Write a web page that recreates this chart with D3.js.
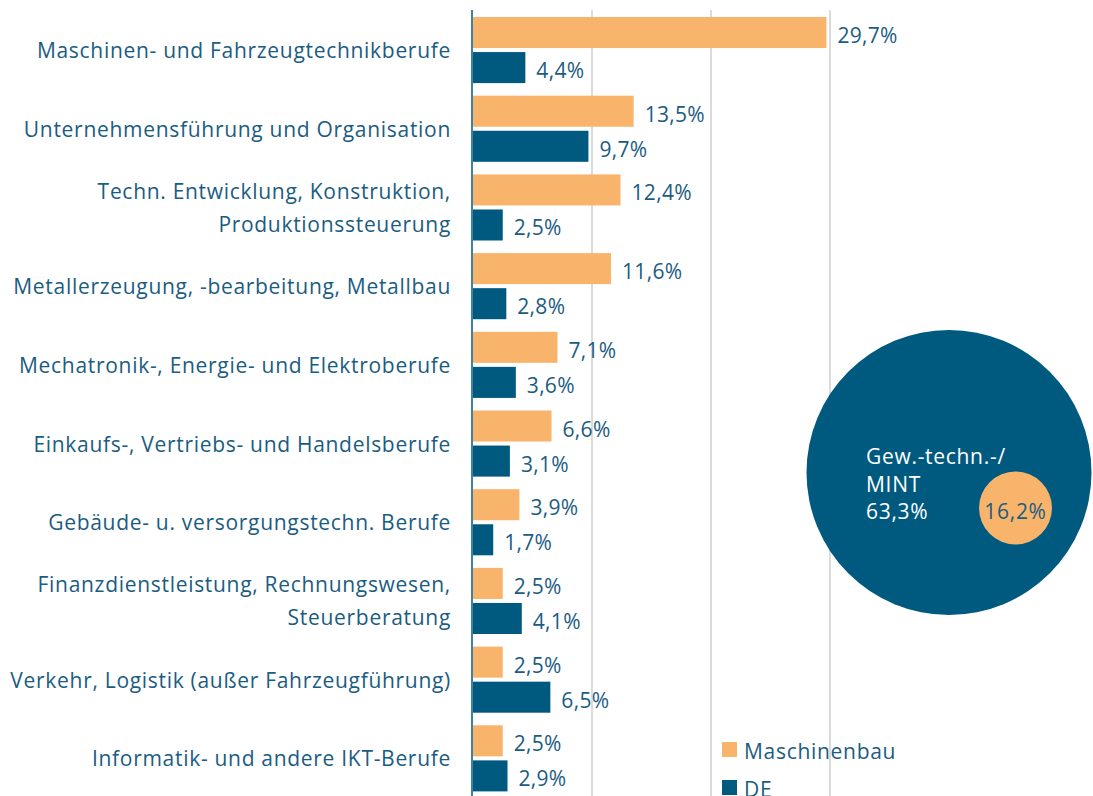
<!DOCTYPE html>
<html>
<head>
<meta charset="utf-8">
<script src="https://cdn.jsdelivr.net/npm/d3@7"></script>
<style>
  body { margin: 0; background: #fff; }
  svg { display: block; font-family: "Open Sans", sans-serif; }
</style>
</head>
<body>
<svg id="chart" width="1093" height="796"></svg>
<script>
// data
var categories = [
  ['Maschinen- und Fahrzeugtechnikberufe'],
  ['Unternehmensführung und Organisation'],
  ['Techn. Entwicklung, Konstruktion,', 'Produktionssteuerung'],
  ['Metallerzeugung, -bearbeitung, Metallbau'],
  ['Mechatronik-, Energie- und Elektroberufe'],
  ['Einkaufs-, Vertriebs- und Handelsberufe'],
  ['Gebäude- u. versorgungstechn. Berufe'],
  ['Finanzdienstleistung, Rechnungswesen,', 'Steuerberatung'],
  ['Verkehr, Logistik (außer Fahrzeugführung)'],
  ['Informatik- und andere IKT-Berufe']
];
var maschinenbau = [29.7, 13.5, 12.4, 11.6, 7.1, 6.6, 3.9, 2.5, 2.5, 2.5];
var de = [4.4, 9.7, 2.5, 2.8, 3.6, 3.1, 1.7, 4.1, 6.5, 2.9];
var seriesNames = ['Maschinenbau', 'DE'];
var xTicks = [10, 20, 30];
var mintLabel = ['Gew.-techn.-/', 'MINT'];
var mintDE = 63.3, mintMB = 16.2;

var orange = '#f9b46b', blue = '#005a80', textColor = '#1b5c82';

var svg = d3.select('#chart');
var fmt = function(v) { return v.toFixed(1).replace('.', ',') + '%'; };

var x = d3.scaleLinear().domain([0, 30]).range([473, 830]);
var y = d3.scaleBand()
  .domain(d3.range(categories.length))
  .range([10.7, 797.7])
  .paddingInner(0.16)
  .paddingOuter(0.08);
var ySub = d3.scaleBand()
  .domain([0, 1])
  .range([0, y.bandwidth()])
  .paddingInner(0.115);

// grid
svg.append('g').selectAll('line')
  .data(xTicks)
  .enter().append('line')
  .attr('x1', function(d) { return x(d); })
  .attr('x2', function(d) { return x(d); })
  .attr('y1', 10)
  .attr('y2', 796)
  .attr('stroke', '#cfcfcf')
  .attr('stroke-width', 1.5);

// bars
var groups = svg.append('g').selectAll('g')
  .data(categories)
  .enter().append('g')
  .attr('transform', function(d, i) { return 'translate(0,' + y(i) + ')'; });

var vals = [maschinenbau, de];
var colors = [orange, blue];
[0, 1].forEach(function(s) {
  groups.append('rect')
    .attr('x', x(0))
    .attr('y', ySub(s))
    .attr('width', function(d, i) { return x(vals[s][i]) - x(0); })
    .attr('height', ySub.bandwidth())
    .attr('fill', colors[s]);

  groups.append('text')
    .attr('x', function(d, i) { return x(vals[s][i]) + 11; })
    .attr('y', ySub(s) + ySub.bandwidth() / 2)
    .attr('dy', '0.5em')
    .attr('fill', textColor)
    .attr('font-size', 21)
    .attr('letter-spacing', 0.3)
    .text(function(d, i) { return fmt(vals[s][i]); });
});

// category labels
groups.append('text')
  .attr('text-anchor', 'end')
  .attr('fill', textColor)
  .attr('font-size', 21)
  .attr('letter-spacing', 0.7)
  .each(function(d) {
    var t = d3.select(this);
    var lh = 33;
    var c = y.bandwidth() / 2;
    d.forEach(function(line, k) {
      t.append('tspan')
        .attr('x', 451)
        .attr('y', c + (k - (d.length - 1) / 2) * lh)
        .attr('dy', '0.38em')
        .text(line);
    });
  });

// axis line
svg.append('line')
  .attr('x1', 472).attr('x2', 472)
  .attr('y1', 10).attr('y2', 796)
  .attr('stroke', blue)
  .attr('stroke-width', 1.5);

// circles (radius proportional to value)
var r = d3.scaleLinear().domain([0, mintDE]).range([0, 142.5]);
svg.append('circle')
  .attr('cx', 949).attr('cy', 472.5)
  .attr('r', r(mintDE))
  .attr('fill', blue);
svg.append('circle')
  .attr('cx', 1015.5).attr('cy', 508)
  .attr('r', r(mintMB))
  .attr('fill', orange);

var bigText = svg.append('text')
  .attr('fill', '#fff')
  .attr('font-size', 21)
  .attr('letter-spacing', 0.7);
mintLabel.concat([fmt(mintDE)]).forEach(function(line, k) {
  bigText.append('tspan')
    .attr('x', 866)
    .attr('y', 464 + k * 27.5)
    .text(line);
});
svg.append('text')
  .attr('x', 1015.5).attr('y', 519)
  .attr('text-anchor', 'middle')
  .attr('fill', textColor)
  .attr('font-size', 21)
  .attr('letter-spacing', 0.7)
  .text(fmt(mintMB));

// legend
var legend = svg.append('g').selectAll('g')
  .data(seriesNames)
  .enter().append('g')
  .attr('transform', function(d, i) { return 'translate(722,' + (742 + i * 38) + ')'; });
legend.append('rect')
  .attr('width', 15).attr('height', 15)
  .attr('fill', function(d, i) { return colors[i]; });
legend.append('text')
  .attr('x', 22).attr('y', 7.5)
  .attr('dy', '0.45em')
  .attr('fill', textColor)
  .attr('font-size', 21)
  .attr('letter-spacing', 0.7)
  .text(function(d) { return d; });
</script>
</body>
</html>
